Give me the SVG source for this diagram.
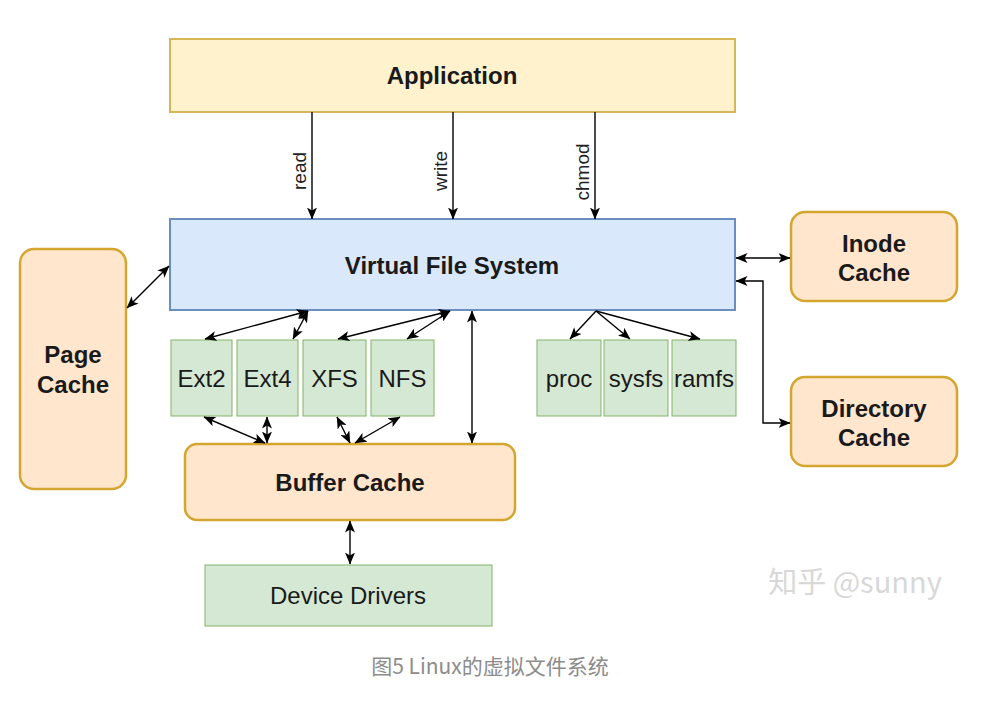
<svg xmlns="http://www.w3.org/2000/svg" width="981" height="716" viewBox="0 0 981 716">
<style>
.t{font-family:"Liberation Sans",Arial,sans-serif;font-size:24px;fill:#1a1a1a;text-anchor:middle}
.b{font-weight:bold}
.lbl{font-family:"Liberation Sans",Arial,sans-serif;font-size:19px;fill:#222;text-anchor:middle}
.app{fill:#fff2cc;stroke:#d6b656;stroke-width:2}
.vfs{fill:#dae8fc;stroke:#6c8ebf;stroke-width:2}
.fs{fill:#d5e8d4;stroke:#82b366;stroke-width:1}
.cache{fill:#ffe6cc;stroke:#d4a62f;stroke-width:2.5}
.c path{fill:none;stroke:#000;stroke-width:1.4}
.bi{marker-start:url(#a);marker-end:url(#a)}
.uni{marker-end:url(#a)}
</style>
<defs>
<marker id="a" viewBox="0 0 12 10" refX="11.5" refY="5" markerWidth="12" markerHeight="10" markerUnits="userSpaceOnUse" orient="auto-start-reverse">
<path d="M0,0 L12,5 L0,10 L3,5 z" fill="#000"/>
</marker>
</defs>
<rect width="981" height="716" fill="#fff"/>

<g id="application"><rect class="app" x="170" y="39" width="565" height="73"/><text class="t b" x="452" y="84">Application</text></g>
<g id="vfs"><rect class="vfs" x="170" y="219" width="565" height="91"/><text class="t b" x="452" y="274">Virtual File System</text></g>
<g id="page-cache"><rect class="cache" x="20" y="249" width="106" height="240" rx="14"/><text class="t b" x="73" y="363">Page</text><text class="t b" x="73" y="393">Cache</text></g>
<g id="inode-cache"><rect class="cache" x="791" y="212" width="166" height="89" rx="14"/><text class="t b" x="874" y="252">Inode</text><text class="t b" x="874" y="281">Cache</text></g>
<g id="directory-cache"><rect class="cache" x="791" y="377" width="166" height="89" rx="14"/><text class="t b" x="874" y="417">Directory</text><text class="t b" x="874" y="446">Cache</text></g>
<g id="ext2"><rect class="fs" x="171" y="340" width="61" height="76"/><text class="t" x="201.5" y="387">Ext2</text></g>
<g id="ext4"><rect class="fs" x="237" y="340" width="61" height="76"/><text class="t" x="267.5" y="387">Ext4</text></g>
<g id="xfs"><rect class="fs" x="303" y="340" width="63" height="76"/><text class="t" x="334.5" y="387">XFS</text></g>
<g id="nfs"><rect class="fs" x="371" y="340" width="63" height="76"/><text class="t" x="402.5" y="387">NFS</text></g>
<g id="proc"><rect class="fs" x="537" y="340" width="64" height="76"/><text class="t" x="569" y="387">proc</text></g>
<g id="sysfs"><rect class="fs" x="604" y="340" width="64" height="76"/><text class="t" x="636" y="387">sysfs</text></g>
<g id="ramfs"><rect class="fs" x="672" y="340" width="64" height="76"/><text class="t" x="704" y="387">ramfs</text></g>
<g id="buffer-cache"><rect class="cache" x="185" y="444" width="330" height="76" rx="12"/><text class="t b" x="350" y="491">Buffer Cache</text></g>
<g id="device-drivers"><rect class="fs" x="205" y="565" width="287" height="61"/><text class="t" x="348" y="604">Device Drivers</text></g>

<g id="connectors" class="c">
<path class="uni" d="M312,112 V219"/>
<path class="uni" d="M453,112 V219"/>
<path class="uni" d="M595,112 V219"/>
<path class="bi" d="M127,308 L169,266"/>
<path class="bi" d="M736,258 H790"/>
<path class="bi" d="M736,281 H763 V423 H790"/>
<path class="uni" d="M596,311 L570,339"/>
<path class="uni" d="M596,311 L630,339"/>
<path class="uni" d="M596,311 L700,339"/>
<path class="bi" d="M308,311 L205,339"/>
<path class="bi" d="M308,311 L293,339"/>
<path class="bi" d="M450,311 L338,339"/>
<path class="bi" d="M450,311 L407,339"/>
<path class="bi" d="M472,311 V443"/>
<path class="bi" d="M204,417 L265,443"/>
<path class="bi" d="M267,417 V443"/>
<path class="bi" d="M337,417 L350,443"/>
<path class="bi" d="M400,417 L355,443"/>
<path class="bi" d="M350,521 V564"/>
</g>
<g id="edge-labels">
<text class="lbl" x="306" y="171" transform="rotate(-90 306 171)">read</text>
<text class="lbl" x="447" y="171" transform="rotate(-90 447 171)">write</text>
<text class="lbl" x="589" y="172" transform="rotate(-90 589 172)">chmod</text>
</g>
<text x="855" y="593" font-family="'Noto Sans CJK SC',sans-serif" font-size="29" fill="#d8d8d8" text-anchor="middle">知乎 @sunny</text>
<text x="490" y="674" font-family="'Noto Sans CJK SC',sans-serif" font-size="21" fill="#8c8c8c" text-anchor="middle">图5 Linux的虚拟文件系统</text>
</svg>
